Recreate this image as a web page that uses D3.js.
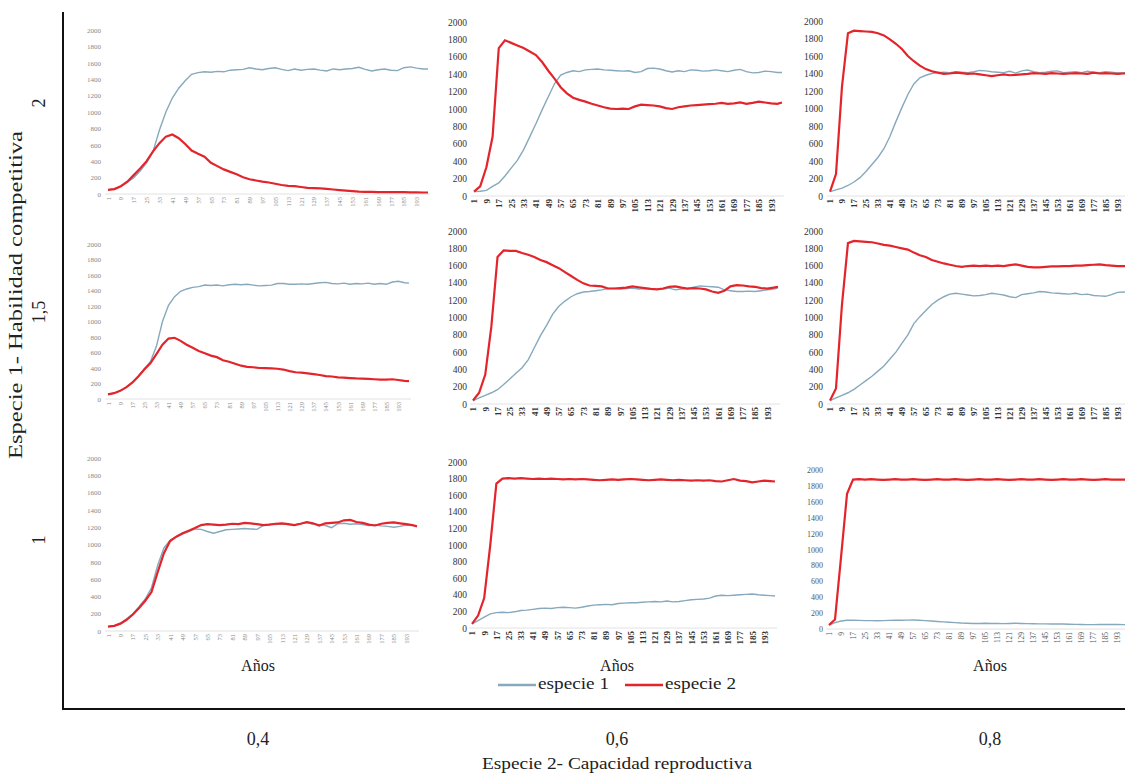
<!DOCTYPE html>
<html>
<head>
<meta charset="utf-8">
<script src="https://cdn.jsdelivr.net/npm/d3@7"></script>
<style>
  body { margin: 0; background: #fff; }
  text { font-family: "Liberation Serif", "DejaVu Serif", serif; }
</style>
</head>
<body>
<svg id="chart"></svg>
<script>
// years (every 4 years)
var years = [1,5,9,13,17,21,25,29,33,37,41,45,49,53,57,61,65,69,73,77,81,85,89,93,97,101,105,109,113,117,121,125,129,133,137,141,145,149,153,157,161,165,169,173,177,181,185,189,193,197,200];

var xTicks = [1,9,17,25,33,41,49,57,65,73,81,89,97,105,113,121,129,137,145,153,161,169,177,185,193];
var yTicks = [0,200,400,600,800,1000,1200,1400,1600,1800,2000];

var rowLabels = ['2', '1,5', '1'];
var colLabels = ['0,4', '0,6', '0,8'];
var seriesNames = ['especie 1', 'especie 2'];

// row "2"
var e1_2_04 = [50,65,95,140,200,280,380,520,780,1000,1170,1290,1380,1460,1480,1490,1485,1495,1490,1510,1515,1520,1540,1525,1515,1530,1540,1520,1505,1525,1510,1520,1525,1510,1500,1525,1515,1525,1530,1545,1520,1500,1515,1525,1510,1505,1540,1550,1535,1525,1525];
var e2_2_04 = [50,60,95,150,230,310,400,520,620,700,725,680,610,530,490,455,380,340,300,270,240,205,180,165,150,140,125,110,100,95,85,75,72,68,62,55,48,42,36,30,27,25,24,24,23,22,22,21,20,18,18];
var e1_2_06 = [50,55,65,110,150,230,320,410,530,680,830,990,1140,1290,1390,1420,1440,1430,1450,1455,1460,1450,1445,1440,1435,1440,1420,1430,1465,1470,1460,1440,1425,1440,1430,1450,1445,1435,1440,1450,1440,1430,1445,1455,1430,1415,1420,1435,1430,1420,1420];
var e2_2_06 = [50,110,330,680,1700,1790,1760,1730,1700,1660,1620,1540,1440,1350,1250,1180,1130,1105,1085,1060,1040,1020,1005,1000,1005,1000,1030,1050,1045,1040,1030,1010,1000,1020,1030,1040,1045,1050,1055,1060,1070,1060,1065,1075,1060,1070,1085,1075,1065,1060,1075];
var e1_2_08 = [50,70,90,120,160,210,280,360,440,540,680,850,1010,1160,1280,1350,1380,1400,1410,1415,1410,1420,1415,1410,1420,1435,1430,1420,1415,1410,1425,1405,1430,1440,1420,1410,1415,1425,1430,1410,1415,1420,1410,1425,1415,1410,1420,1415,1405,1410,1405];
var e2_2_08 = [50,250,1250,1860,1890,1885,1880,1875,1860,1835,1790,1740,1680,1600,1540,1490,1450,1425,1410,1395,1400,1410,1405,1395,1400,1390,1380,1370,1380,1390,1380,1385,1390,1395,1405,1400,1395,1405,1400,1395,1400,1405,1400,1395,1410,1400,1405,1400,1395,1400,1400];

// row "1,5"
var e1_15_04 = [60,75,105,150,210,290,390,480,680,1000,1210,1320,1390,1420,1440,1450,1470,1465,1470,1460,1475,1480,1475,1480,1470,1460,1465,1470,1490,1490,1480,1480,1485,1480,1490,1500,1505,1490,1485,1495,1480,1490,1485,1495,1480,1490,1480,1510,1520,1500,1495];
var e2_15_04 = [60,75,105,150,210,290,380,460,580,700,780,790,750,700,660,620,590,560,540,500,480,455,430,415,410,400,398,395,390,380,360,345,340,330,320,310,295,290,280,275,270,265,262,260,255,250,250,255,245,235,230];
var e1_15_06 = [40,70,100,130,165,225,290,355,420,510,650,790,910,1040,1130,1190,1240,1275,1295,1300,1310,1320,1335,1335,1330,1335,1340,1330,1335,1330,1325,1330,1340,1320,1330,1335,1350,1365,1360,1355,1350,1320,1310,1300,1300,1305,1300,1310,1320,1330,1340];
var e2_15_06 = [40,130,340,900,1700,1775,1770,1770,1745,1725,1700,1665,1640,1605,1570,1525,1480,1435,1395,1370,1365,1360,1335,1335,1340,1345,1360,1350,1340,1330,1325,1335,1355,1360,1345,1335,1340,1335,1325,1300,1285,1310,1360,1375,1370,1360,1355,1340,1335,1345,1355];
var e1_15_08 = [40,70,100,130,170,220,270,320,380,440,520,600,700,800,930,1010,1080,1150,1200,1240,1270,1280,1270,1260,1250,1255,1265,1280,1270,1260,1240,1230,1265,1275,1285,1300,1295,1285,1280,1275,1270,1280,1265,1270,1255,1250,1245,1265,1290,1295,1290];
var e2_15_08 = [40,180,1150,1860,1885,1880,1875,1870,1855,1840,1830,1815,1800,1785,1750,1720,1700,1665,1645,1625,1610,1595,1585,1595,1600,1595,1600,1595,1600,1595,1605,1615,1600,1585,1580,1580,1585,1590,1590,1595,1595,1600,1600,1605,1610,1615,1605,1600,1595,1595,1595];

// row "1"
var e1_1_04 = [50,60,90,140,200,280,370,500,760,960,1050,1090,1120,1150,1180,1175,1150,1130,1150,1170,1175,1180,1185,1180,1175,1220,1235,1230,1240,1230,1225,1240,1250,1235,1230,1220,1195,1240,1245,1235,1240,1230,1220,1225,1215,1210,1200,1210,1225,1220,1210];
var e2_1_04 = [50,60,85,130,190,265,350,450,680,900,1040,1090,1130,1160,1190,1225,1235,1230,1225,1230,1240,1235,1250,1245,1235,1225,1230,1240,1245,1235,1225,1240,1260,1245,1220,1245,1250,1255,1280,1285,1260,1250,1230,1220,1240,1250,1255,1245,1235,1225,1210];
var e1_1_06 = [50,90,130,170,185,190,185,195,210,215,225,235,240,235,245,250,245,240,250,265,275,280,285,280,295,300,305,305,310,315,320,315,325,315,320,330,340,345,350,360,385,395,390,395,400,405,410,400,395,390,385];
var e2_1_06 = [50,150,360,1000,1740,1800,1805,1800,1805,1800,1795,1800,1795,1800,1795,1790,1795,1790,1795,1790,1785,1780,1785,1790,1785,1790,1795,1790,1785,1780,1785,1790,1785,1780,1785,1780,1775,1780,1775,1780,1770,1765,1780,1795,1775,1770,1755,1765,1775,1770,1765];
var e1_1_08 = [50,80,100,110,110,108,105,105,103,105,108,110,110,112,113,110,105,100,95,90,85,80,75,72,70,70,72,70,70,68,70,72,70,68,66,65,64,63,62,62,60,58,56,55,55,56,57,57,56,55,55];
var e2_1_08 = [50,120,900,1700,1880,1885,1880,1885,1880,1875,1880,1885,1880,1880,1885,1880,1875,1880,1885,1880,1880,1885,1880,1875,1880,1885,1880,1880,1885,1880,1875,1880,1885,1880,1880,1885,1880,1875,1880,1885,1880,1880,1885,1880,1875,1880,1885,1880,1880,1880,1880];

var panels = [
  {row: 0, col: 0, s1: e1_2_04, s2: e2_2_04},
  {row: 0, col: 1, s1: e1_2_06, s2: e2_2_06},
  {row: 0, col: 2, s1: e1_2_08, s2: e2_2_08},
  {row: 1, col: 0, s1: e1_15_04, s2: e2_15_04},
  {row: 1, col: 1, s1: e1_15_06, s2: e2_15_06},
  {row: 1, col: 2, s1: e1_15_08, s2: e2_15_08},
  {row: 2, col: 0, s1: e1_1_04, s2: e2_1_04},
  {row: 2, col: 1, s1: e1_1_06, s2: e2_1_06},
  {row: 2, col: 2, s1: e1_1_08, s2: e2_1_08}
];

// where each small chart sits on the page (x of year 1 / year 200, y of 0 / 2000)
var frames = [
  {x1: 108, x2: 428, y0: 194, y1: 30,  lab: 101, fs: 6.5, col: '#888'},
  {x1: 474, x2: 782, y0: 196, y1: 22,  lab: 467, fs: 9,   col: '#333'},
  {x1: 830, x2: 1128, y0: 196, y1: 21, lab: 823, fs: 9,   col: '#333'},
  {x1: 108, x2: 409, y0: 399, y1: 244, lab: 101, fs: 6.5, col: '#888'},
  {x1: 473, x2: 778, y0: 404, y1: 231, lab: 467, fs: 9,   col: '#333'},
  {x1: 830, x2: 1128, y0: 404, y1: 231, lab: 823, fs: 9,  col: '#333'},
  {x1: 108, x2: 417, y0: 631, y1: 458, lab: 101, fs: 6.5, col: '#888'},
  {x1: 472, x2: 775, y0: 628, y1: 462, lab: 467, fs: 9,   col: '#333'},
  {x1: 829, x2: 1128, y0: 629, y1: 470, lab: 823, fs: 7.5, col: '#555'}
];

var blue = '#86a9bd';
var red = '#e3242b';

var svg = d3.select('#chart')
    .attr('width', 1125)
    .attr('height', 773);

svg.append('rect').attr('width', 1125).attr('height', 773).attr('fill', '#fff');

panels.forEach(function(p, i) {
    var f = frames[i];
    var x = d3.scaleLinear().domain([1, 200]).range([f.x1, f.x2]);
    var y = d3.scaleLinear().domain([0, 2000]).range([f.y0, f.y1]);
    var g = svg.append('g');

    // value axis (labels only)
    var ya = g.append('g')
        .attr('transform', 'translate(' + f.lab + ',0)')
        .call(d3.axisLeft(y).tickValues(yTicks).tickFormat(d3.format('d')).tickSize(0).tickPadding(0));
    ya.select('.domain').remove();
    ya.selectAll('text')
        .attr('font-family', '"Liberation Serif", serif')
        .attr('font-size', f.fs + 0.5)
        .attr('fill', f.col);

    // year axis, labels turned up
    var xa = g.append('g')
        .attr('transform', 'translate(0,' + f.y0 + ')')
        .call(d3.axisBottom(x).tickValues(xTicks).tickSize(0));
    xa.select('.domain')
        .attr('d', 'M' + (f.x1 - 3) + ',0H' + (f.x2 + 2))
        .attr('stroke', '#e2e2e2');
    xa.selectAll('text')
        .attr('font-family', '"Liberation Serif", serif')
        .attr('font-size', f.fs)
        .attr('font-weight', f.fs > 8 ? 'bold' : 'normal')
        .attr('fill', f.col)
        .attr('transform', 'rotate(-90)')
        .attr('text-anchor', 'end')
        .attr('x', -3)
        .attr('y', 0)
        .attr('dy', '0.32em');

    var line = d3.line()
        .x(function(d, j) { return x(years[j]); })
        .y(function(d) { return y(d); });

    g.append('path')
        .datum(p.s1)
        .attr('d', line)
        .attr('fill', 'none')
        .attr('stroke', blue)
        .attr('stroke-width', 1.4);

    g.append('path')
        .datum(p.s2)
        .attr('d', line)
        .attr('fill', 'none')
        .attr('stroke', red)
        .attr('stroke-width', 2.2);
});

// "Años" under each bottom chart
[258, 617, 990].forEach(function(cx) {
    svg.append('text')
        .attr('x', cx).attr('y', 671)
        .attr('text-anchor', 'middle')
        .attr('font-size', 16)
        .attr('fill', '#222')
        .text('Años');
});

// legend
var legend = svg.append('g').attr('transform', 'translate(0,689)');
[{x: 498, c: blue}, {x: 625, c: red}].forEach(function(d, i) {
    legend.append('line')
        .attr('x1', d.x).attr('x2', d.x + 38)
        .attr('y1', -4).attr('y2', -4)
        .attr('stroke', d.c)
        .attr('stroke-width', 2.4);
    legend.append('text')
        .attr('x', d.x + 40).attr('y', 0)
        .attr('font-size', 17)
        .attr('textLength', 71)
        .attr('lengthAdjust', 'spacingAndGlyphs')
        .attr('fill', '#222')
        .text(seriesNames[i]);
});

// outer frame lines
svg.append('line')
    .attr('x1', 63).attr('x2', 63).attr('y1', 12).attr('y2', 709)
    .attr('stroke', '#111').attr('stroke-width', 2);
svg.append('line')
    .attr('x1', 62).attr('x2', 1125).attr('y1', 709).attr('y2', 709)
    .attr('stroke', '#111').attr('stroke-width', 2);

// row labels
[103, 312, 540].forEach(function(cy, i) {
    svg.append('text')
        .attr('transform', 'translate(45,' + cy + ') rotate(-90)')
        .attr('text-anchor', 'middle')
        .attr('font-size', 18)
        .attr('fill', '#222')
        .text(rowLabels[i]);
});

// column labels
[258, 617, 990].forEach(function(cx, i) {
    svg.append('text')
        .attr('x', cx).attr('y', 745)
        .attr('text-anchor', 'middle')
        .attr('font-size', 18)
        .attr('fill', '#222')
        .text(colLabels[i]);
});

svg.append('text')
    .attr('transform', 'translate(22,295) rotate(-90)')
    .attr('text-anchor', 'middle')
    .attr('font-size', 18)
    .attr('textLength', 328)
    .attr('lengthAdjust', 'spacingAndGlyphs')
    .attr('fill', '#222')
    .text('Especie 1- Habilidad competitiva');

svg.append('text')
    .attr('x', 617).attr('y', 769)
    .attr('text-anchor', 'middle')
    .attr('font-size', 16)
    .attr('textLength', 270)
    .attr('lengthAdjust', 'spacingAndGlyphs')
    .attr('fill', '#222')
    .text('Especie 2- Capacidad reproductiva');
</script>
</body>
</html>
